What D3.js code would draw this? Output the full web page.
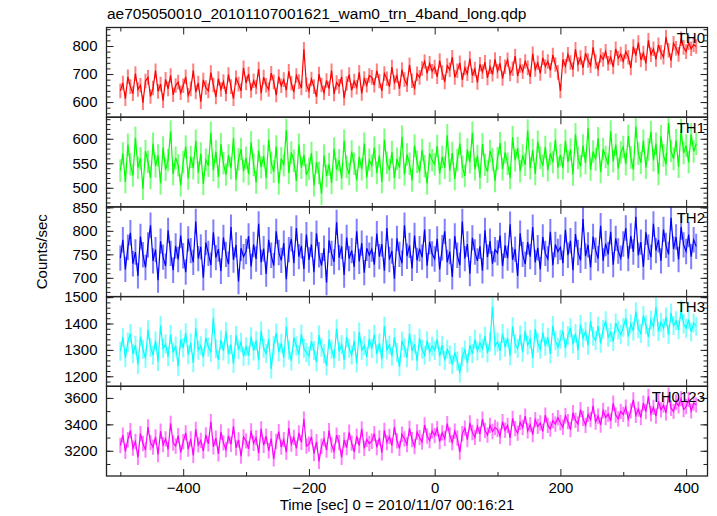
<!DOCTYPE html>
<html>
<head>
<meta charset="utf-8">
<script src="https://cdn.jsdelivr.net/npm/d3@7"></script>
<style>
  html, body { margin: 0; padding: 0; background: #fff; }
  svg { display: block; font-family: "Liberation Sans", Arial, Helvetica, sans-serif; }
</style>
</head>
<body>
<svg id="chart" width="717" height="516"></svg>
<script>
// ---------------- DATA ----------------
const titleText = "ae705050010_20101107001621_wam0_trn_4band_long.qdp";
const xLabel = "Time [sec] 0 = 2010/11/07 00:16:21";
const yLabel = "Counts/sec";
const bandNames = ["TH0", "TH1", "TH2", "TH3", "TH0123"];
const bandColors = ["#ff0000", "#00ff00", "#0000ff", "#00ffff", "#ff00ff"];

// time bins (s), 4-s sampling from -500 to 416
const timeStart = -500, timeStep = 4, nBins = 230;
const times = d3.range(nBins).map(i => timeStart + i * timeStep);

// 1-sigma error bar half-length per band (counts/sec)
const bandErrors = [26, 23, 27, 36, 58];

const th0 = [
640,668,612,690,655,630,702,645,660,598,675,688,620,650,712,638,664,605,681,647,695,626,659,671,633,
658,690,624,647,712,636,668,601,679,652,640,705,661,618,684,645,673,629,698,655,612,687,664,640,722,
668,700,641,676,654,718,632,689,660,645,703,672,625,691,658,680,642,710,667,636,695,673,650,788,662,
640,682,655,619,700,661,633,677,648,712,629,670,656,690,614,666,698,642,675,653,706,631,684,660,695,
688,660,712,675,640,702,683,655,725,670,694,648,716,680,662,733,676,650,701,688,720,745,702,738,710,
725,690,748,705,672,730,715,760,688,712,740,679,722,701,755,694,718,670,735,708,742,686,726,699,752,
710,738,684,726,751,700,719,764,693,731,708,745,722,690,772,716,740,702,758,727,745,713,768,734,706,
640,752,728,770,741,716,788,735,759,722,774,748,730,795,744,718,766,752,781,738,760,725,790,756,771,
745,780,760,722,798,766,812,750,775,738,820,769,790,752,804,778,760,832,785,748,810,792,770,826,795,
780,812,790,805,798];

const th1 = [
535,570,512,588,548,525,602,541,560,498,575,553,520,590,544,566,509,582,537,556,615,528,561,546,505,
552,584,519,563,540,596,531,570,508,557,545,612,536,574,522,589,550,527,566,540,601,516,558,579,534,
561,528,593,547,511,576,542,565,520,598,551,533,584,509,560,546,618,530,572,555,514,588,541,567,526,
539,571,505,552,530,488,566,524,548,510,580,537,556,519,596,543,528,574,549,515,563,538,590,521,557,
545,582,530,566,512,598,551,536,573,520,559,541,604,527,568,549,515,586,553,532,577,544,509,570,556,
548,585,529,563,541,607,535,571,518,556,590,543,524,578,552,612,538,565,520,589,547,533,575,558,514,
560,591,538,572,549,520,603,556,581,534,566,547,617,540,577,528,594,561,545,583,536,570,552,598,541,
567,540,596,553,578,527,609,561,544,586,550,622,537,574,558,601,532,579,563,547,615,554,588,539,572,
583,548,606,562,537,625,570,551,596,541,578,614,556,590,528,605,566,548,632,575,559,597,543,618,571,
586,552,609,574,590];

const th2 = [
742,781,718,765,796,730,755,704,788,749,722,770,812,736,760,695,778,744,725,801,752,716,768,739,790,
747,712,783,758,733,820,741,766,700,775,752,727,797,743,761,714,786,750,729,808,738,770,692,763,745,
756,789,724,771,740,815,733,762,708,781,748,726,799,754,737,774,697,760,783,731,806,745,768,719,792,
738,771,712,795,749,726,763,690,780,752,734,818,743,767,706,786,741,758,723,799,735,774,711,763,748,
761,728,794,745,772,715,806,739,757,698,784,750,731,812,746,769,720,790,737,762,744,803,726,777,751,
740,783,718,764,799,733,756,702,789,748,727,820,741,772,709,785,755,736,767,715,801,744,778,730,760,
753,790,725,769,742,814,738,761,704,795,750,729,776,745,808,733,764,718,787,752,740,798,727,771,756,
765,731,802,748,779,716,793,754,737,825,746,770,722,788,759,741,811,736,773,750,798,728,784,757,742,
772,806,741,789,755,830,748,776,723,797,765,744,815,758,781,736,803,769,750,828,761,787,739,808,770,
756,792,745,781,767];

const th3 = [
1295,1348,1270,1330,1362,1285,1318,1245,1350,1302,1268,1376,1310,1280,1335,1256,1392,1305,1322,1274,1358,1290,1315,1238,1340,
1308,1365,1282,1327,1251,1384,1299,1316,1272,1345,1311,1290,1422,1304,1262,1338,1296,1370,1283,1320,1248,1355,1301,1329,1276,
1312,1278,1350,1296,1335,1260,1372,1306,1286,1342,1228,1318,1364,1292,1325,1270,1388,1300,1258,1346,1315,1282,1360,1305,1290,
1276,1332,1298,1254,1356,1310,1285,1240,1340,1302,1268,1380,1294,1320,1262,1348,1306,1281,1335,1250,1368,1299,1316,1274,1342,
1305,1358,1284,1326,1265,1390,1300,1319,1276,1347,1290,1236,1334,1308,1270,1362,1296,1322,1258,1344,1302,1280,1335,1292,1314,
1298,1340,1275,1318,1260,1302,1282,1245,1290,1258,1212,1274,1300,1250,1318,1286,1340,1296,1326,1305,1352,1288,1330,1462,1315,
1330,1296,1362,1310,1345,1278,1388,1322,1305,1356,1290,1372,1318,1340,1268,1380,1326,1302,1366,1314,1348,1285,1392,1335,1310,
1340,1372,1306,1355,1384,1322,1362,1298,1396,1345,1370,1318,1408,1352,1336,1390,1325,1378,1410,1348,1366,1332,1402,1375,1358,
1386,1420,1350,1398,1372,1445,1380,1362,1430,1395,1348,1412,1388,1462,1370,1405,1382,1425,1358,1440,1392,1410,1376,1452,1398,
1382,1415,1368,1402,1390];

const th0123 = [
3240,3318,3195,3285,3352,3220,3270,3150,3330,3255,3205,3380,3262,3228,3305,3172,3348,3246,3290,3210,3408,3258,3236,3315,3188,
3268,3335,3212,3290,3165,3362,3244,3278,3198,3320,3252,3420,3230,3296,3176,3342,3260,3208,3312,3248,3385,3222,3282,3160,3305,
3275,3214,3350,3256,3298,3182,3366,3242,3310,3200,3292,3138,3270,3345,3228,3284,3190,3372,3250,3302,3218,3336,3264,3440,3235,
3250,3305,3178,3268,3120,3234,3290,3205,3352,3244,3196,3318,3262,3150,3282,3225,3340,3258,3192,3310,3240,3366,3218,3286,3255,
3272,3330,3225,3298,3185,3354,3262,3308,3240,3380,3276,3218,3325,3290,3246,3370,3284,3232,3342,3300,3265,3395,3312,3278,3350,
3315,3368,3270,3336,3292,3405,3320,3262,3348,3296,3190,3330,3372,3284,3410,3338,3302,3385,3326,3440,3355,3318,3392,3346,3376,
3362,3310,3420,3355,3392,3298,3445,3368,3334,3415,3376,3462,3350,3398,3322,3436,3384,3410,3346,3470,3392,3365,3428,3402,3450,
3412,3378,3465,3420,3360,3488,3430,3402,3512,3445,3392,3475,3436,3540,3418,3462,3395,3505,3452,3478,3425,3560,3470,3442,3498,
3475,3530,3440,3502,3585,3468,3515,3452,3560,3496,3612,3480,3528,3462,3575,3510,3545,3488,3620,3522,3498,3568,3540,3595,3512,
3535,3588,3502,3560,3548];

const bandValues = [th0, th1, th2, th3, th0123];

// axis ranges and ticks
const xDomain = [-522, 434];
const xMajorTicks = [-400, -200, 0, 200, 400];
const xMinorTicks = [-500, -300, -100, 100, 300];
const yDomains = [[546, 866], [461, 644], [660, 851], [1162, 1502], [3009, 3688]];
const yMajorTicks = [[600, 700, 800], [500, 550, 600], [700, 750, 800, 850], [1200, 1300, 1400, 1500], [3200, 3400, 3600]];
const yMinorSteps = [20, 10, 10, 20, 100];

// ---------------- LAYOUT ----------------
const svg = d3.select("#chart");
const plotLeft = 106.5, plotRight = 707.5, plotTop = 27.5, plotBottom = 476;
const nP = bandNames.length;
const ph = (plotBottom - plotTop) / nP;
const FONT = 15;
const majLen = 7, minLen = 4;

const x = d3.scaleLinear().domain(xDomain).range([plotLeft, plotRight]);

// title
svg.append("text").attr("x", 107).attr("y", 19)
  .attr("font-size", 15.5).attr("fill", "#000").text(titleText);

// y label
svg.append("text")
  .attr("transform", `translate(46.5, ${(plotTop + plotBottom) / 2}) rotate(-90)`)
  .attr("text-anchor", "middle").attr("font-size", FONT).attr("fill", "#000")
  .text(yLabel);

// x label
svg.append("text").attr("x", 397).attr("y", 510)
  .attr("text-anchor", "middle").attr("font-size", FONT).attr("fill", "#000")
  .text(xLabel);

const defs = svg.append("defs");

bandNames.forEach((name, k) => {
  const y0 = plotTop + k * ph, y1 = y0 + ph;
  const y = d3.scaleLinear().domain(yDomains[k]).range([y1, y0]);
  const vals = bandValues[k];
  const err = bandErrors[k];
  const color = bandColors[k];

  defs.append("clipPath").attr("id", "clip" + k)
    .append("rect").attr("x", plotLeft).attr("y", y0).attr("width", plotRight - plotLeft).attr("height", ph);

  const g = svg.append("g").attr("clip-path", `url(#clip${k})`);
  const pts = times.map((t, i) => ({ t, v: vals[i] }));

  // error bars
  g.append("g").selectAll("line").data(pts).join("line")
    .attr("x1", d => x(d.t)).attr("x2", d => x(d.t))
    .attr("y1", d => y(d.v - err)).attr("y2", d => y(d.v + err))
    .attr("stroke", color).attr("stroke-opacity", 0.5).attr("stroke-width", 2);

  // connecting line
  g.append("path").datum(pts)
    .attr("d", d3.line().x(d => x(d.t)).y(d => y(d.v)))
    .attr("fill", "none").attr("stroke", color).attr("stroke-width", 1.2);

  // y axes (inward ticks)
  const yMinor = d3.range(Math.ceil(yDomains[k][0] / yMinorSteps[k]) * yMinorSteps[k], yDomains[k][1] + 0.001, yMinorSteps[k]);
  const styleAxis = sel => { sel.select(".domain").remove(); sel.selectAll("line").attr("stroke", "#222"); };

  svg.append("g").attr("transform", `translate(${plotLeft},0)`)
    .call(d3.axisLeft(y).tickValues(yMinor).tickSize(-minLen).tickFormat(""))
    .call(styleAxis);
  svg.append("g").attr("transform", `translate(${plotLeft},0)`)
    .call(d3.axisLeft(y).tickValues(yMajorTicks[k]).tickSize(-majLen).tickPadding(9).tickFormat(d3.format("d")))
    .call(styleAxis)
    .call(s => s.selectAll("text").attr("font-size", FONT).attr("fill", "#000").attr("font-family", null));
  svg.append("g").attr("transform", `translate(${plotRight},0)`)
    .call(d3.axisRight(y).tickValues(yMinor).tickSize(-minLen).tickFormat(""))
    .call(styleAxis);
  svg.append("g").attr("transform", `translate(${plotRight},0)`)
    .call(d3.axisRight(y).tickValues(yMajorTicks[k]).tickSize(-majLen).tickFormat(""))
    .call(styleAxis);

  // x ticks on top and bottom of panel
  svg.append("g").attr("transform", `translate(0,${y0})`)
    .call(d3.axisTop(x).tickValues(xMinorTicks).tickSize(-minLen).tickFormat("")).call(styleAxis);
  svg.append("g").attr("transform", `translate(0,${y0})`)
    .call(d3.axisTop(x).tickValues(xMajorTicks).tickSize(-majLen).tickFormat("")).call(styleAxis);
  svg.append("g").attr("transform", `translate(0,${y1})`)
    .call(d3.axisBottom(x).tickValues(xMinorTicks).tickSize(-minLen).tickFormat("")).call(styleAxis);
  const xb = svg.append("g").attr("transform", `translate(0,${y1})`)
    .call(d3.axisBottom(x).tickValues(xMajorTicks).tickSize(-majLen).tickPadding(6.5)
      .tickFormat(k === nP - 1 ? d3.format("d") : ""))
    .call(styleAxis);
  xb.selectAll("text").attr("font-size", FONT).attr("fill", "#000").attr("font-family", null);

  // frame
  svg.append("rect").attr("x", plotLeft).attr("y", y0).attr("width", plotRight - plotLeft).attr("height", ph)
    .attr("fill", "none").attr("stroke", "#222").attr("stroke-width", 1.3);

  // band label
  svg.append("text").attr("x", 705).attr("y", y0 + 15.8)
    .attr("text-anchor", "end").attr("font-size", FONT).attr("fill", "#000").text(name);
});
</script>
</body>
</html>
